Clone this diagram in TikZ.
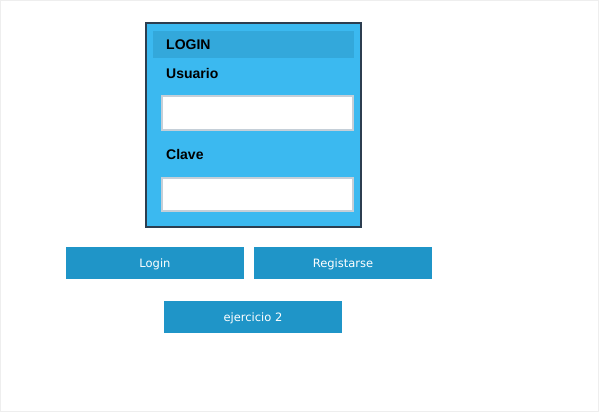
\documentclass[tikz,border=0pt]{standalone}
\usepackage{fontspec}
\setmainfont{Liberation Sans}
\newfontfamily\btnfont{DejaVu Sans}
\definecolor{panelfill}{HTML}{3BB9F0}
\definecolor{panelborder}{HTML}{2C3E50}
\definecolor{headfill}{HTML}{33A8DB}
\definecolor{inputborder}{HTML}{C5CFD8}
\definecolor{btnfill}{HTML}{1F95C8}
\definecolor{frame}{HTML}{EEEEEE}
\tikzset{
  lbl/.style={anchor=base west, inner sep=0pt, font=\fontsize{14}{16}\selectfont\bfseries, text=black},
  inputbox/.style={draw=inputborder, line width=2pt, fill=white, inner sep=0pt},
  btn/.style={inner sep=0pt, text=white, font=\btnfont\fontsize{11.5}{13}\selectfont},
}
\begin{document}
\begin{tikzpicture}[x=1pt,y=-1pt]
\useasboundingbox (0,0) rectangle (599,412);
\draw[frame, line width=1pt] (0.5,0.5) rectangle (598.5,411.5);
% panel
\draw[panelborder, fill=panelfill, line width=2pt] (146,23) rectangle (361,227);
\fill[headfill] (153,31) rectangle (354,58);
\node[lbl] (login) at (166,50) {LOGIN};
\node[lbl] (usuario) at (166,78) {Usuario};
\draw[inputbox] (162,96) rectangle (353,130);
\node[lbl] (clave) at (166,159) {Clave};
\draw[inputbox] (162,177.5) rectangle (353,211);
% buttons
\fill[btnfill] (66,247) rectangle (244,279);
\node[btn] (blogin) at (155,264) {Login};
\fill[btnfill] (254,247) rectangle (432,279);
\node[btn] (breg) at (343,264) {Registarse};
\fill[btnfill] (164,301) rectangle (342,333);
\node[btn] (bej) at (253,318) {ejercicio 2};
\end{tikzpicture}
\end{document}
